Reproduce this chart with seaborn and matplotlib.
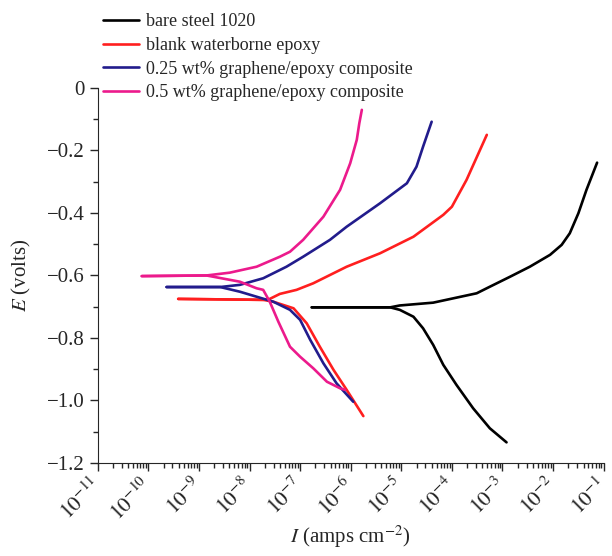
import numpy as np
import pandas as pd
import matplotlib
matplotlib.use("Agg")
import matplotlib.pyplot as plt
import matplotlib.ticker as mticker
import seaborn as sns

# Tafel curves: log10(I) and E (volts), one anodic and one cathodic branch per sample
samples = ["bare steel 1020", "blank waterborne epoxy",
           "0.25 wt% graphene/epoxy composite", "0.5 wt% graphene/epoxy composite"]
colours = ["#000000", "#ff1f1f", "#221c8c", "#ec1a8c"]

steel_an_logI = [-6.77, -5.22, -5.03, -4.37, -3.94, -3.51, -3.25, -2.85, -2.46, -2.06, -1.83,
                 -1.67, -1.50, -1.34, -1.13]
steel_an_E = [-0.702, -0.702, -0.696, -0.687, -0.672, -0.657, -0.636, -0.604, -0.572, -0.534, -0.502,
              -0.465, -0.401, -0.326, -0.239]
steel_ca_logI = [-6.77, -5.22, -5.03, -4.76, -4.57, -4.37, -4.17, -3.91, -3.58, -3.25, -2.92]
steel_ca_E = [-0.702, -0.702, -0.710, -0.732, -0.769, -0.822, -0.886, -0.950, -1.025, -1.089, -1.134]

blank_an_logI = [-9.41, -7.73, -7.60, -7.40, -7.07, -6.74, -6.08, -5.42, -4.76, -4.17, -4.00, -3.71, -3.31]
blank_an_E = [-0.675, -0.678, -0.675, -0.659, -0.646, -0.625, -0.572, -0.529, -0.476, -0.406, -0.380,
              -0.294, -0.150]
blank_ca_logI = [-9.41, -7.73, -7.53, -7.13, -6.87, -6.61, -6.34, -6.08, -5.75]
blank_ca_E = [-0.675, -0.678, -0.684, -0.705, -0.753, -0.828, -0.902, -0.966, -1.050]

g025_an_logI = [-9.64, -8.58, -8.19, -7.73, -7.27, -6.94, -6.41, -6.08, -5.42, -4.89, -4.70, -4.57, -4.40]
g025_an_E = [-0.637, -0.637, -0.630, -0.609, -0.572, -0.540, -0.486, -0.444, -0.369, -0.305, -0.252,
             -0.188, -0.108]
g025_ca_logI = [-9.64, -8.58, -8.19, -7.53, -7.20, -7.00, -6.80, -6.54, -6.28, -5.95]
g025_ca_E = [-0.637, -0.637, -0.652, -0.684, -0.710, -0.742, -0.806, -0.881, -0.945, -1.004]

g05_an_logI = [-10.13, -8.85, -8.39, -7.86, -7.40, -7.20, -6.94, -6.54, -6.21, -6.01, -5.88, -5.83, -5.78]
g05_an_E = [-0.602, -0.600, -0.591, -0.572, -0.540, -0.524, -0.486, -0.412, -0.326, -0.241, -0.166,
            -0.113, -0.070]
g05_ca_logI = [-10.13, -8.85, -8.19, -7.86, -7.73, -7.60, -7.43, -7.20, -7.00, -6.74, -6.47, -6.21, -6.11]
g05_ca_E = [-0.602, -0.600, -0.620, -0.641, -0.646, -0.684, -0.748, -0.828, -0.860, -0.897, -0.940,
            -0.961, -0.966]

branches = [
    (samples[0], "anodic", steel_an_logI, steel_an_E),
    (samples[0], "cathodic", steel_ca_logI, steel_ca_E),
    (samples[1], "anodic", blank_an_logI, blank_an_E),
    (samples[1], "cathodic", blank_ca_logI, blank_ca_E),
    (samples[2], "anodic", g025_an_logI, g025_an_E),
    (samples[2], "cathodic", g025_ca_logI, g025_ca_E),
    (samples[3], "anodic", g05_an_logI, g05_an_E),
    (samples[3], "cathodic", g05_ca_logI, g05_ca_E),
]
rows = []
for name, br, lx, e in branches:
    for a, b in zip(lx, e):
        rows.append({"sample": name, "branch": br, "I": 10.0 ** a, "E": b})
df = pd.DataFrame(rows)

sns.set_style("ticks")
plt.rcParams["font.family"] = ["Liberation Serif", "DejaVu Serif"]
plt.rcParams["mathtext.fontset"] = "stix"

fig = plt.figure(figsize=(6.12, 5.56), dpi=100)
ax = fig.add_axes([0.1597, 0.1673, 0.8267, 0.6745])

sns.lineplot(data=df, x="I", y="E", hue="sample", units="branch", estimator=None,
             sort=False, hue_order=samples, palette=dict(zip(samples, colours)),
             linewidth=1.9, ax=ax, legend=True)
for ln in ax.get_lines():
    ln.set_solid_joinstyle("round")
    ln.set_solid_capstyle("round")

ax.set_xscale("log")
ax.set_xlim(1e-11, 1e-1)
ax.set_ylim(-1.2, 0)
sns.despine(ax=ax)

ax.xaxis.set_major_locator(mticker.LogLocator(base=10, numticks=20))
ax.xaxis.set_minor_locator(mticker.LogLocator(base=10, subs=np.arange(2, 10), numticks=20))
ax.xaxis.set_minor_formatter(mticker.NullFormatter())
ax.xaxis.set_major_formatter(mticker.FuncFormatter(lambda v, p: r"$10^{%d}$" % round(np.log10(v))))
ax.yaxis.set_major_locator(mticker.MultipleLocator(0.2))
ax.yaxis.set_minor_locator(mticker.MultipleLocator(0.1))
ax.yaxis.set_major_formatter(mticker.FuncFormatter(
    lambda v, p: "0" if abs(v) < 1e-9 else ("%.1f" % v).replace("-", "\u2212")))

ax.tick_params(axis="both", which="major", direction="out", length=6, width=1, labelsize=15)
ax.tick_params(axis="both", which="minor", direction="out", length=3.5, width=1)
ax.tick_params(axis="x", which="major", labelsize=15.5, pad=8)
for lab in ax.get_xticklabels():
    lab.set_rotation(45)
    lab.set_ha("right")
    lab.set_va("center")
    lab.set_rotation_mode("anchor")

ax.set_xlabel(r"$I$ (amps cm$^{-2}$)", fontsize=15, labelpad=-1)
ax.set_ylabel(r"$E$ (volts)", fontsize=15, labelpad=10)

handles, labels = ax.get_legend_handles_labels()
ax.legend(handles, labels, loc="upper left", bbox_to_anchor=(0.168, 0.976),
          bbox_transform=fig.transFigure, frameon=False, fontsize=13,
          handlelength=2.0, handletextpad=0.4, labelspacing=0.37,
          borderpad=0, borderaxespad=0)

fig.savefig("out.png", dpi=100)
